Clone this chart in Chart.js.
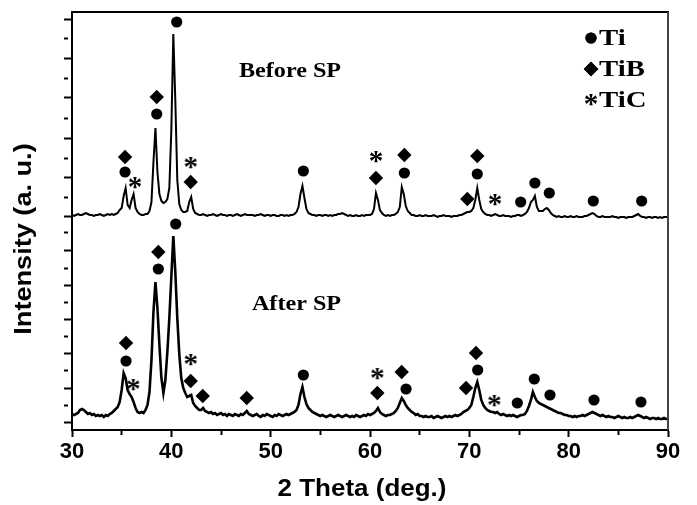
<!DOCTYPE html>
<html>
<head>
<meta charset="utf-8">
<script src="https://cdn.jsdelivr.net/npm/chart.js@4/dist/chart.umd.min.js"></script>
<style>
  html, body { margin: 0; padding: 0; background: #fff; }
</style>
</head>
<body>
<canvas id="xrd" width="697" height="505"></canvas>
<script>
// 2 theta sampling grid, 0.2 deg steps from 30 to 90
const twoTheta = [];
for (let i = 0; i <= 300; i++) twoTheta.push(Math.round((30 + i * 0.2) * 10) / 10);

// Before SP trace (upper pattern, offset baked in)
const beforeSP = [
  215, 214, 215, 216, 215, 215, 216, 217, 216, 215,  // 30
  215, 214, 215, 215, 216, 215, 214, 215, 216, 215,  // 32
  216, 215, 216, 217, 220, 222, 234, 242, 225, 222,  // 34
  230, 236, 222, 218, 216, 215, 215, 216, 216, 219,  // 36
  228, 268, 302, 258, 236, 229, 227, 228, 231, 242,  // 38
  300, 396, 330, 250, 226, 220, 218, 218, 219, 228,  // 40
  233, 221, 217, 216, 215, 215, 216, 215, 214, 215,  // 42
  215, 216, 215, 214, 215, 216, 215, 215, 214, 215,  // 44
  215, 214, 215, 216, 215, 214, 215, 216, 215, 215,  // 46
  215, 215, 214, 215, 215, 216, 215, 214, 215, 215,  // 48
  214, 215, 215, 214, 214, 215, 215, 214, 215, 214,  // 50
  215, 215, 216, 218, 223, 236, 244, 232, 221, 217,  // 52
  216, 215, 215, 214, 215, 215, 214, 215, 215, 214,  // 54
  215, 214, 215, 215, 216, 216, 217, 216, 215, 214,  // 56
  215, 214, 214, 215, 214, 214, 215, 214, 215, 215,  // 58
  215, 216, 221, 237, 230, 220, 217, 215, 214, 215,  // 60
  214, 215, 215, 216, 218, 223, 243, 236, 224, 219,  // 62
  217, 215, 215, 214, 214, 215, 214, 214, 215, 214,  // 64
  214, 214, 215, 214, 213, 214, 214, 215, 214, 214,  // 66
  214, 213, 214, 214, 214, 215, 215, 216, 217, 218,  // 68
  218, 219, 222, 230, 242, 230, 221, 218, 216, 215,  // 70
  215, 214, 215, 216, 215, 214, 214, 215, 214, 214,  // 72
  214, 213, 214, 214, 215, 215, 214, 215, 216, 218,  // 74
  222, 228, 230, 234, 223, 219, 219, 219, 221, 222,  // 76
  220, 217, 215, 214, 213, 214, 213, 213, 214, 213,  // 78
  213, 214, 213, 213, 214, 213, 213, 213, 214, 214,  // 80
  215, 216, 217, 216, 214, 213, 213, 214, 213, 213,  // 82
  213, 213, 214, 213, 213, 212, 213, 213, 213, 212,  // 84
  213, 213, 213, 214, 215, 216, 214, 213, 213, 212,  // 86
  213, 213, 212, 213, 213, 212, 213, 212, 213, 213,  // 88
  213                                                 // 90
];

// After SP trace (lower pattern)
const afterSP = [
  16, 15, 16, 17, 20, 21, 20, 18, 16, 17,   // 30
  15, 16, 14, 15, 14, 15, 13, 15, 14, 16,   // 32
  17, 19, 21, 23, 28, 40, 57, 52, 40, 36,   // 34
  33, 28, 22, 18, 17, 18, 17, 20, 25, 38,   // 36
  70, 118, 148, 122, 85, 52, 37, 50, 78, 112, // 38
  153, 194, 158, 112, 76, 52, 42, 37, 33, 34, // 40
  35, 27, 24, 22, 20, 20, 22, 19, 18, 17,   // 42
  18, 16, 17, 15, 16, 17, 15, 16, 14, 16,   // 44
  15, 14, 16, 15, 14, 16, 15, 17, 19, 16,   // 46
  15, 14, 15, 16, 14, 13, 15, 14, 16, 15,   // 48
  14, 13, 15, 14, 16, 15, 14, 15, 16, 15,   // 50
  16, 17, 18, 20, 25, 36, 43, 33, 26, 22,   // 52
  20, 18, 17, 16, 15, 14, 15, 14, 13, 14,   // 54
  15, 14, 13, 14, 15, 14, 13, 14, 15, 14,   // 56
  13, 14, 13, 15, 14, 13, 14, 15, 14, 16,   // 58
  15, 16, 17, 19, 22, 18, 16, 15, 14, 15,   // 60
  15, 16, 17, 19, 22, 27, 32, 29, 25, 22,   // 62
  20, 18, 17, 15, 16, 14, 14, 13, 14, 13,   // 64
  13, 14, 12, 13, 14, 13, 12, 13, 14, 13,   // 66
  14, 13, 14, 15, 14, 15, 16, 18, 19, 20,   // 68
  22, 25, 33, 42, 48, 40, 30, 25, 22, 20,   // 70
  19, 18, 18, 17, 18, 16, 15, 16, 15, 14,   // 72
  15, 14, 15, 14, 13, 14, 15, 15, 16, 19,   // 74
  24, 30, 38, 33, 29, 27, 26, 25, 24, 23,   // 76
  22, 21, 20, 19, 18, 17, 17, 16, 15, 15,   // 78
  14, 14, 13, 14, 13, 14, 14, 15, 14, 15,   // 80
  16, 17, 18, 17, 16, 15, 14, 15, 14, 13,   // 82
  14, 13, 13, 12, 13, 14, 13, 12, 13, 12,   // 84
  12, 13, 12, 13, 14, 15, 14, 13, 12, 13,   // 86
  12, 11, 12, 12, 11, 12, 11, 11, 12, 11,   // 88
  11                                         // 90
];

// phase marks (position above the peaks)
const tiX  = [35.34, 38.53, 40.54, 53.29, 63.46, 70.80, 75.17, 76.60, 78.05, 82.48, 87.35,
              35.44, 38.69, 40.44, 53.29, 63.63, 70.84, 74.83, 76.54, 78.12, 82.55, 87.28];
const tiY  = [258, 316, 408, 259, 257, 256, 228, 247, 237, 229, 229,
              69, 161, 206, 55, 41, 60, 27, 51, 35, 30, 28];
const tibX = [35.34, 38.53, 41.95, 60.60, 63.46, 69.80, 70.80,
              35.44, 38.69, 41.95, 43.16, 47.59, 60.74, 63.19, 69.67, 70.67];
const tibY = [273, 333, 248, 252, 275, 231, 274,
              87, 178, 49, 34, 32, 37, 58, 42, 77];
const ticX = [36.34, 41.95, 60.60, 72.59, 36.17, 41.95, 60.74, 72.52];
const ticY = [247, 267, 273, 230, 45, 70, 56, 29];

const phases = ['Ti', 'TiB', 'TiC'];
const samples = ['Before SP', 'After SP'];
const sampleLabelX = [51.95, 52.6];
const sampleLabelY = [358, 125];

const xTicks = [30, 35, 40, 45, 50, 55, 60, 65, 70, 75, 80, 85, 90];
const yMajorTicks = [8, 42, 77, 111, 145, 180, 213, 253, 292, 332, 371, 411];
const yMinorTicks = [25, 60, 94, 128, 162, 197, 233, 272, 312, 352, 391];

const xTitle = '2 Theta (deg.)';
const yTitle = 'Intensity (a. u.)';

function pts(xs, ys) { return xs.map((v, i) => ({ x: v, y: ys[i] })); }

// asterisk glyph used as point style
function asterisk() {
  const c = document.createElement('canvas');
  c.width = 20; c.height = 20;
  const g = c.getContext('2d');
  g.font = 'bold 29px "Liberation Serif"';
  g.textAlign = 'center';
  g.textBaseline = 'alphabetic';
  const m = g.measureText('*');
  const base = 10 + (m.actualBoundingBoxAscent - m.actualBoundingBoxDescent) / 2;
  g.fillStyle = '#000';
  g.fillText('*', 10, base);
  return c;
}
const star = asterisk();

const tickDash = ctx => (ctx.tick && ctx.tick.major) ? [] : [4, 60];

function stretchedText(ctx, text, cx, cy, sx, rot) {
  ctx.save();
  ctx.translate(cx, cy);
  if (rot) ctx.rotate(rot);
  ctx.scale(sx, 1);
  ctx.fillText(text, 0, 0);
  ctx.restore();
}

const decor = {
  id: 'decor',
  afterDatasetsDraw(chart) {
    const { ctx, chartArea: a, scales: { x, y } } = chart;
    ctx.save();
    ctx.lineWidth = 2;
    ctx.strokeStyle = '#000';
    ctx.beginPath(); ctx.moveTo(a.left, a.top); ctx.lineTo(a.right + 1, a.top); ctx.stroke();
    ctx.strokeStyle = '#444';
    ctx.beginPath(); ctx.moveTo(a.right, a.top); ctx.lineTo(a.right, a.bottom); ctx.stroke();

    ctx.fillStyle = '#000';
    ctx.textAlign = 'center';
    ctx.textBaseline = 'middle';

    // axis titles
    ctx.font = 'bold 23px "Liberation Sans"';
    stretchedText(ctx, xTitle, 362, 490, 1.13, 0);
    ctx.font = 'bold 24px "Liberation Sans"';
    stretchedText(ctx, yTitle, 24, 239, 1.13, -Math.PI / 2);

    ctx.font = 'bold 21px "Liberation Serif"';
    samples.forEach((s, i) => {
      stretchedText(ctx, s, x.getPixelForValue(sampleLabelX[i]), y.getPixelForValue(sampleLabelY[i]), 1.15, 0);
    });

    // legend
    ctx.textAlign = 'left';
    ctx.font = 'bold 24px "Liberation Serif"';
    chart.data.datasets.filter(d => d.phase).forEach((d, i) => {
      const ly = 38 + i * 31;
      Chart.helpers.drawPoint(ctx, { pointStyle: d.pointStyle, radius: d.pointRadius, rotation: 0, borderWidth: 0 }, 591, ly);
      ctx.fill();
      stretchedText(ctx, d.label, 599, ly + 1, 1.2, 0);
    });
    ctx.restore();
  }
};

const markStyle = { showLine: false, backgroundColor: '#000', borderColor: '#000', borderWidth: 0, phase: true };

new Chart(document.getElementById('xrd'), {
  type: 'line',
  data: {
    datasets: [
      { label: phases[0], data: pts(tiX, tiY), pointStyle: 'circle', pointRadius: 5.6, ...markStyle },
      { label: phases[1], data: pts(tibX, tibY), pointStyle: 'rectRot', pointRadius: 7.2, ...markStyle },
      { label: phases[2], data: pts(ticX, ticY), pointStyle: star, pointRadius: 6, ...markStyle },
      { label: samples[0], data: pts(twoTheta, beforeSP), borderColor: '#000', borderWidth: 2, pointRadius: 0, tension: 0 },
      { label: samples[1], data: pts(twoTheta, afterSP), borderColor: '#000', borderWidth: 2.6, pointRadius: 0, tension: 0 }
    ]
  },
  options: {
    responsive: false,
    animation: false,
    events: [],
    layout: { padding: { left: 0, right: 29, top: 12, bottom: 0 } },
    plugins: { legend: { display: false }, tooltip: { enabled: false } },
    scales: {
      x: {
        type: 'linear', min: 30, max: 90,
        afterBuildTicks: s => { s.ticks = xTicks.map(v => ({ value: v, major: v % 10 === 0 })); },
        afterFit: s => { s.height = 75; },
        ticks: {
          autoSkip: false, maxRotation: 0, padding: 2, color: '#000',
          font: { family: 'Liberation Sans', weight: 'bold', size: 22 },
          callback: v => (v % 10 === 0 ? v : '')
        },
        grid: { drawOnChartArea: false, tickLength: 7, tickWidth: 2, tickColor: '#000', tickBorderDash: tickDash },
        border: { color: '#000', width: 2 },
        title: { display: false, text: xTitle }
      },
      y: {
        type: 'linear', min: 0, max: 418,
        afterBuildTicks: s => {
          s.ticks = yMajorTicks.map(v => ({ value: v, major: true }))
            .concat(yMinorTicks.map(v => ({ value: v, major: false })))
            .sort((p, q) => p.value - q.value);
        },
        afterFit: s => { s.width = 72; },
        ticks: { callback: () => '' },
        grid: { drawOnChartArea: false, tickLength: 8, tickWidth: 2, tickColor: '#000', tickBorderDash: tickDash },
        border: { color: '#000', width: 2 },
        title: { display: false, text: yTitle }
      }
    }
  },
  plugins: [decor]
});
</script>
</body>
</html>
